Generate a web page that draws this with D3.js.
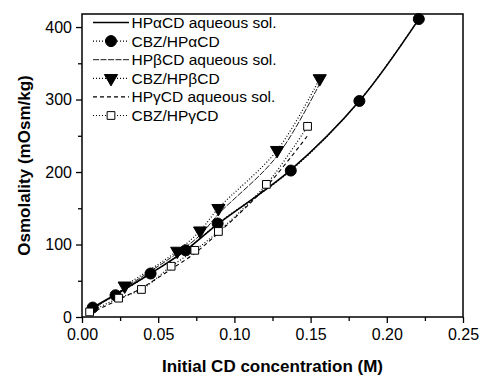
<!DOCTYPE html>
<html>
<head>
<meta charset="utf-8">
<script src="https://cdn.jsdelivr.net/npm/d3@7"></script>
<style>
  body { margin: 0; background: #fff; }
  text { font-family: "Liberation Sans", Arial, sans-serif; }
</style>
</head>
<body>
<div id="chart"></div>
<script>
// values
var alphaX = [0.007, 0.022, 0.045, 0.068, 0.089, 0.137, 0.182, 0.221];
var alphaAq = [13, 31, 60, 92, 128, 203, 298, 411];
var alphaCbz = [13, 30, 60, 92, 129, 202, 298, 411];

var betaX = [0.006, 0.028, 0.0625, 0.0775, 0.0895, 0.128, 0.156];
var betaAq = [9, 40, 88, 113, 142, 222, 322];
var betaCbzX = [0.028, 0.0625, 0.0775, 0.0895, 0.128, 0.156];
var betaCbz = [43, 91, 119, 150, 230, 329];

var gammaX = [0.005, 0.024, 0.039, 0.0585, 0.074, 0.0895, 0.121, 0.148];
var gammaAq = [5, 24, 40, 66, 88, 116, 180, 250];
var gammaCbz = [7, 26, 38, 70, 92, 118, 183, 263];

var xTicks = [0, 0.05, 0.1, 0.15, 0.2, 0.25];
var yTicks = [0, 100, 200, 300, 400];
var legendLabels = ["HP\u03b1CD aqueous sol.", "CBZ/HP\u03b1CD", "HP\u03b2CD aqueous sol.",
  "CBZ/HP\u03b2CD", "HP\u03b3CD aqueous sol.", "CBZ/HP\u03b3CD"];

var W = 482, H = 377;
var margin = { top: 14, left: 82, right: 19, bottom: 60 };
var width = W - margin.left - margin.right,
    height = H - margin.top - margin.bottom;

var svg = d3.select("#chart").append("svg")
  .attr("width", W).attr("height", H)
  .append("g")
  .attr("transform", "translate(" + margin.left + "," + margin.top + ")");

var x = d3.scaleLinear().domain([0, 0.25]).range([0, width]);
var y = d3.scaleLinear().domain([0, 418]).range([height, 0]);

// frame
svg.append("rect").attr("width", width).attr("height", height)
  .attr("fill", "none").attr("stroke", "#000").attr("stroke-width", 1.5);

// minor ticks
var xAxisMinor = d3.axisBottom(x).tickValues(d3.range(0.025, 0.25, 0.05)).tickSize(4).tickFormat("");
var yAxisMinor = d3.axisLeft(y).tickValues([50, 150, 250, 350]).tickSize(4).tickFormat("");
svg.append("g").attr("transform", "translate(0," + height + ")").call(xAxisMinor);
svg.append("g").call(yAxisMinor);

var xAxis = d3.axisBottom(x).tickValues(xTicks).tickSize(6).tickPadding(6)
  .tickFormat(d3.format(".2f"));
var yAxis = d3.axisLeft(y).tickValues(yTicks).tickSize(6).tickPadding(4);

svg.append("g").attr("class", "x-axis")
  .attr("transform", "translate(0," + height + ")").call(xAxis);
svg.append("g").attr("class", "y-axis").call(yAxis);

svg.selectAll(".domain").remove();
svg.selectAll(".tick line").attr("stroke", "#000").attr("stroke-width", 1.3);
svg.selectAll(".tick text").attr("fill", "#000").style("font-size", "16px");

svg.append("text")
  .attr("text-anchor", "middle")
  .attr("x", width / 2).attr("y", height + 55)
  .style("font-size", "17px").style("font-weight", "bold")
  .text("Initial CD concentration (M)");

svg.append("text")
  .attr("text-anchor", "middle")
  .attr("transform", "translate(-52," + height / 2 + ")rotate(-90)")
  .style("font-size", "17px").style("font-weight", "bold")
  .text("Osmolality (mOsm/kg)");

function line(xs) {
  return d3.line()
    .x(function(d, i) { return x(xs[i]); })
    .y(function(d) { return y(d); })
    .curve(d3.curveCatmullRom);
}

var series = [
  { xs: alphaX, ys: alphaAq, dash: null, w: 1.6 },
  { xs: alphaX, ys: alphaCbz, dash: "1,2", w: 1.2, marker: "circle" },
  { xs: betaX, ys: betaAq, dash: "6,1.5", w: 0.9 },
  { xs: betaCbzX, ys: betaCbz, dash: "1,2", w: 1.2, marker: "triangle" },
  { xs: gammaX, ys: gammaAq, dash: "4,3", w: 1.1 },
  { xs: gammaX, ys: gammaCbz, dash: "1,2", w: 1.2, marker: "square" }
];

var symbols = {
  circle: d3.symbol().type(d3.symbolCircle).size(95),
  triangle: d3.symbol().type(d3.symbolTriangle).size(75),
  square: d3.symbol().type(d3.symbolSquare).size(60)
};

function drawMarker(g, type) {
  g.append("path")
    .attr("d", symbols[type]())
    .attr("transform", type == "triangle" ? "rotate(180)" : null)
    .attr("fill", type == "square" ? "#fff" : "#000")
    .attr("stroke", "#000")
    .attr("stroke-width", 1);
}

series.forEach(function(s) {
  svg.append("path")
    .datum(s.ys)
    .attr("d", line(s.xs))
    .attr("fill", "none")
    .attr("stroke", "#000")
    .attr("stroke-width", s.w)
    .attr("stroke-dasharray", s.dash);
});

series.forEach(function(s) {
  if (!s.marker) return;
  s.ys.forEach(function(v, i) {
    var g = svg.append("g")
      .attr("transform", "translate(" + x(s.xs[i]) + "," + y(v) + ")");
    drawMarker(g, s.marker);
  });
});

// legend
var legend = svg.append("g").attr("transform", "translate(11,8.5)");
series.forEach(function(s, i) {
  var row = legend.append("g").attr("transform", "translate(0," + (i * 18.6) + ")");
  row.append("line")
    .attr("x1", 0).attr("x2", 36)
    .attr("stroke", "#000")
    .attr("stroke-width", s.w)
    .attr("stroke-dasharray", s.dash);
  if (s.marker) {
    var m = row.append("g").attr("transform", "translate(18,0)");
    drawMarker(m, s.marker);
  }
  row.append("text")
    .attr("x", 38.5).attr("y", 5.5)
    .style("font-size", "15.5px")
    .text(legendLabels[i]);
});
</script>
</body>
</html>
